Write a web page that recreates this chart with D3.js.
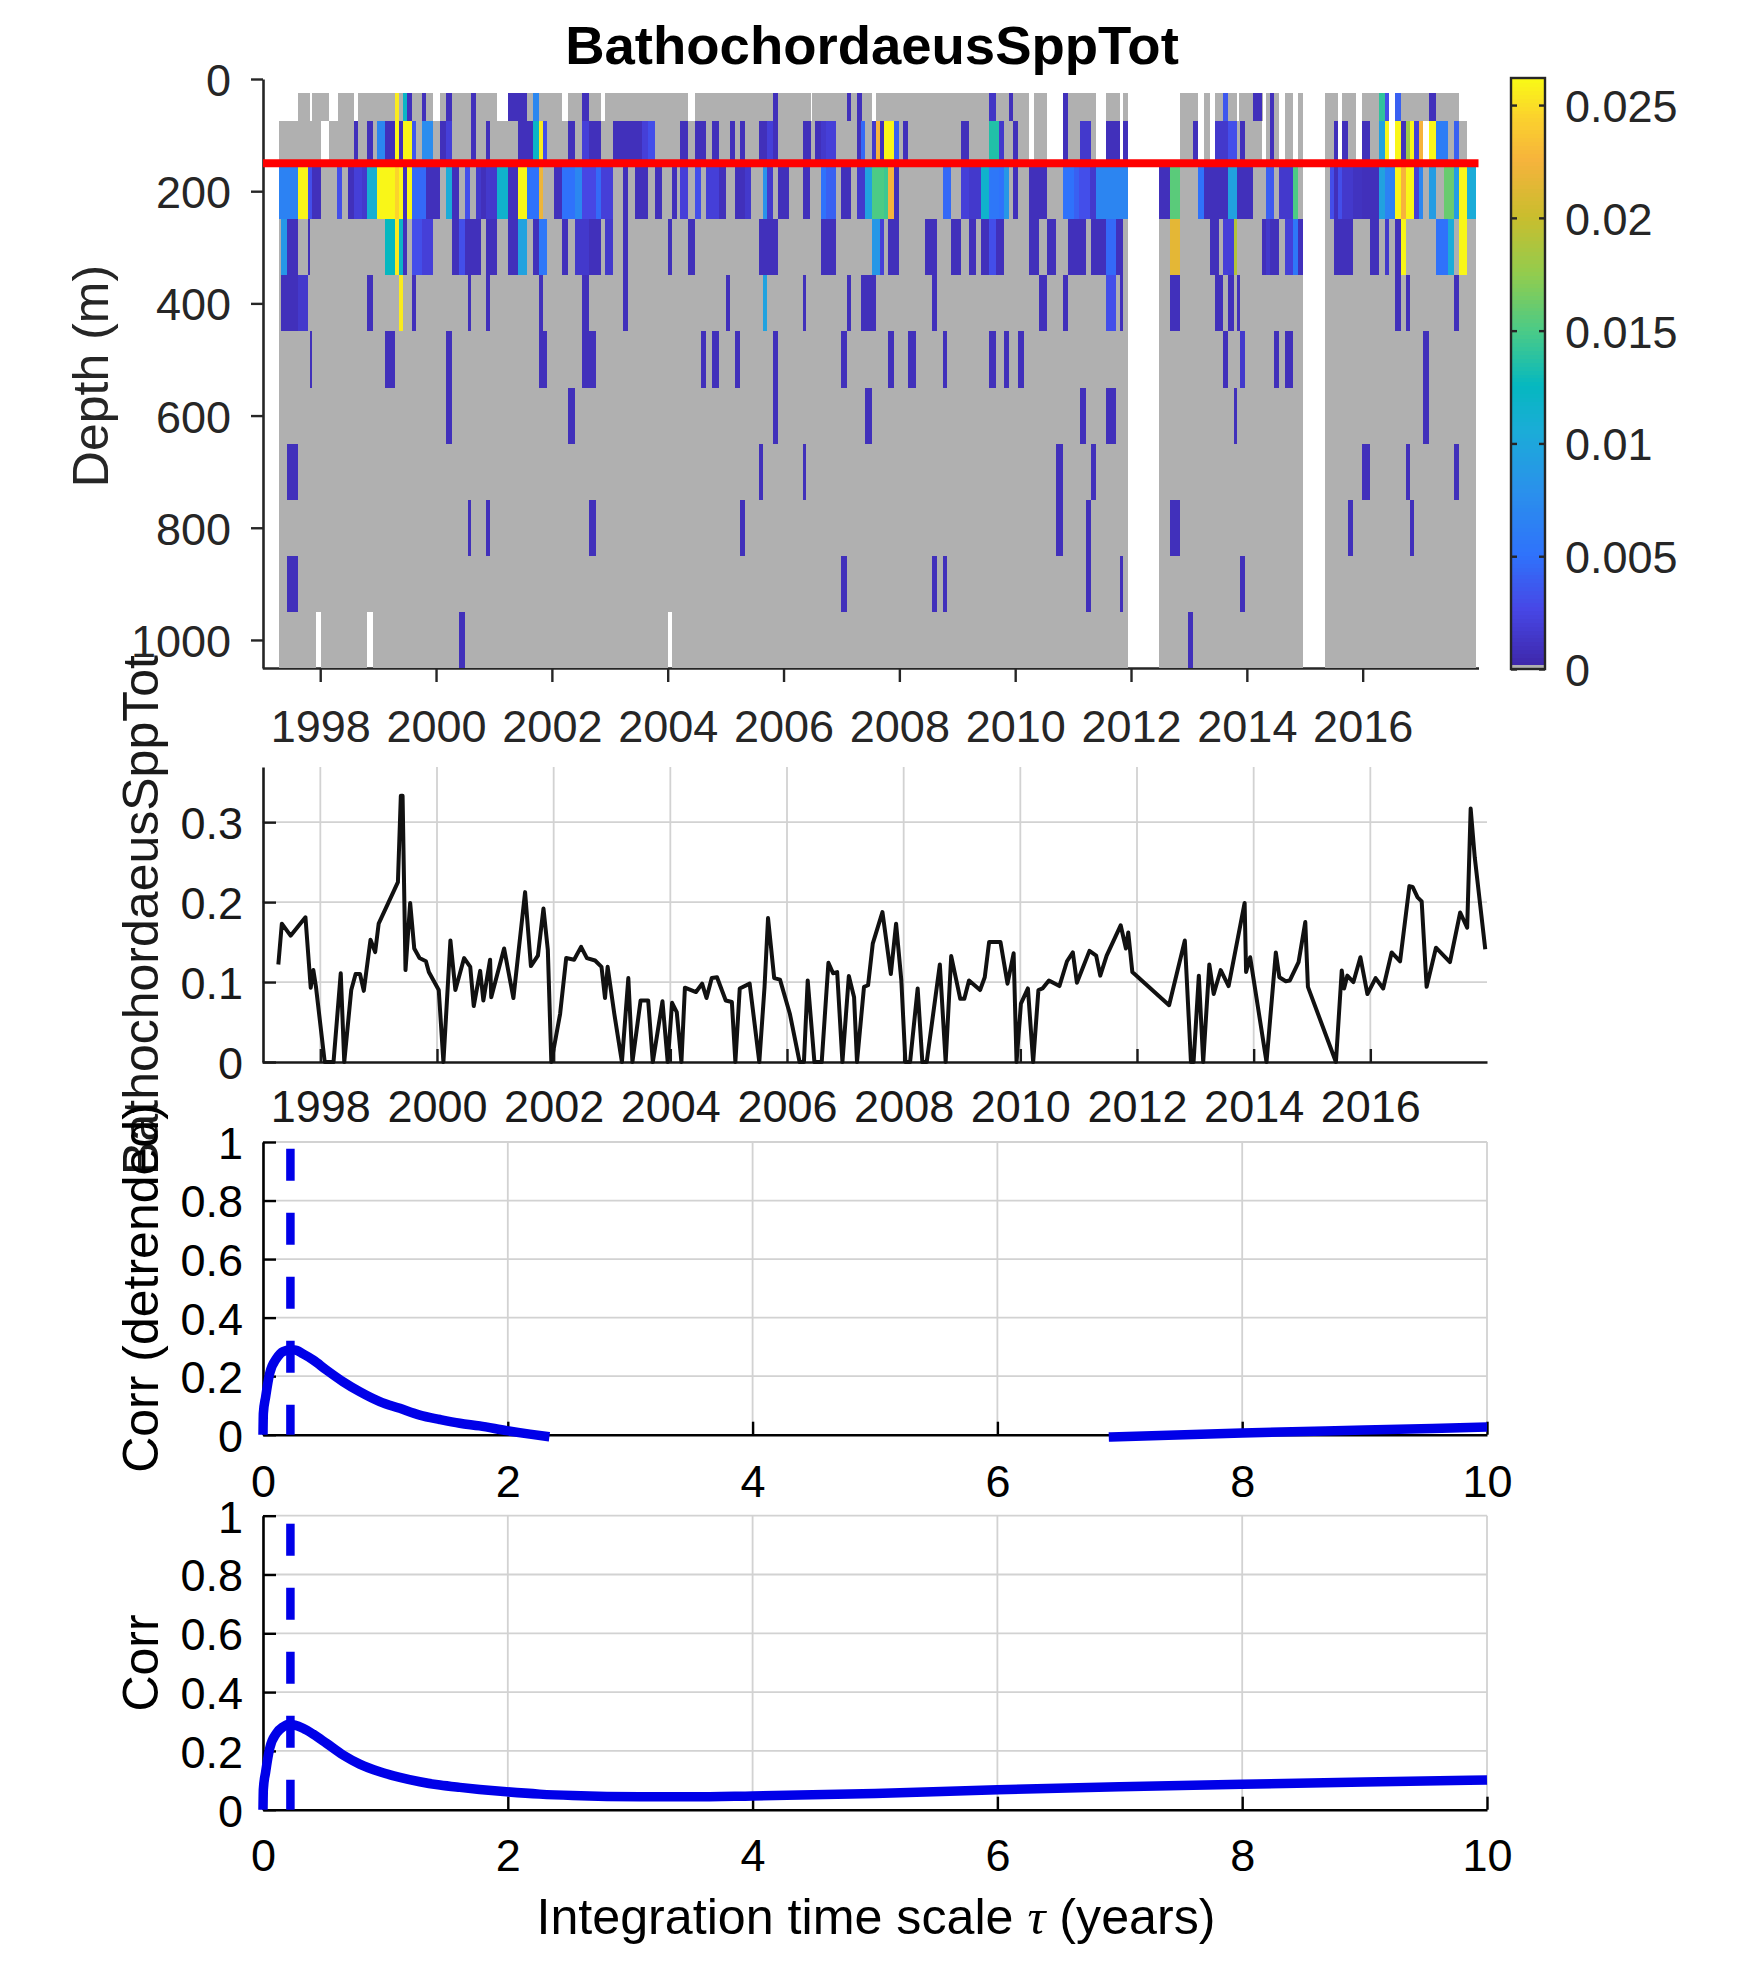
<!DOCTYPE html>
<html>
<head>
<meta charset="utf-8">
<title>BathochordaeusSppTot</title>
<script src="https://cdn.jsdelivr.net/npm/d3@7"></script>
<style>
  html, body { margin: 0; padding: 0; background: #fff; }
  svg { display: block; }
  text { font-family: "Liberation Sans", Arial, sans-serif; }
</style>
</head>
<body>
<svg id="fig" width="1750" height="1969"></svg>
<script>
//////////////////// DATA ////////////////////
const D = 0.0008; // darkest blue, most of the cells

// depth bins of the section (m)
const depthEdges = [25, 75, 150, 250, 350, 450, 550, 650, 750, 850, 950, 1050];

// first and last time sampled for each depth bin
const rowSpans = [
  [1997.62, 2017.66], [1997.28, 2017.81], [1997.28, 2017.95], [1997.28, 2017.95],
  [1997.28, 2017.95], [1997.28, 2017.95], [1997.28, 2017.95], [1997.28, 2017.95],
  [1997.28, 2017.95], [1997.28, 2017.95], [1997.28, 2017.95]
];

// missing times (white)
const gapsTop = [[1997.83, 1997.86], [1998.15, 1998.30], [1998.59, 1998.66], [1999.95, 2000.07], [2001.05, 2001.24],
  [2002.17, 2002.28], [2002.85, 2002.91], [2004.35, 2004.48], [2006.47, 2006.49], [2007.52, 2007.60], [2010.24, 2010.33],
  [2010.55, 2010.83], [2011.40, 2011.57], [2011.81, 2011.86], [2011.95, 2012.84], [2013.16, 2013.26], [2013.36, 2013.45],
  [2013.83, 2013.86], [2014.28, 2014.33], [2014.55, 2014.66], [2014.79, 2014.88], [2014.965, 2015.345], [2015.57, 2015.64],
  [2015.88, 2015.98], [2016.45, 2016.55]];
const gapsSecond = [[1998.02, 1998.155], [2010.24, 2010.33], [2010.55, 2010.83], [2011.40, 2011.57], [2011.81, 2011.86],
  [2011.95, 2012.84], [2013.16, 2013.26], [2013.36, 2013.45], [2014.26, 2014.33], [2014.55, 2014.66], [2014.79, 2014.88],
  [2014.965, 2015.345], [2015.57, 2015.64], [2015.88, 2015.98], [2016.45, 2016.55], [2017.05, 2017.14]];
const gapsDeep = [[2011.95, 2012.48], [2014.965, 2015.345]];
const gapsBottom = [[1997.93, 1998.02], [1998.81, 1998.91], [2004.0, 2004.07], [2011.95, 2012.48], [2014.965, 2015.345]];

// cells with a non zero value : [start, end, value]
const cells25 = [[1999.29, 1999.36, .0255], [1999.43, 1999.50, .012], [1999.50, 1999.59, D], [1999.76, 1999.83, D], [2000.17, 2000.28, D],
  [2000.60, 2000.69, D], [2001.24, 2001.57, D], [2001.67, 2001.78, .007], [2002.52, 2002.64, D], [2005.81, 2005.91, D], [2007.09, 2007.17, D],
  [2007.26, 2007.35, D], [2009.55, 2009.67, .0012], [2009.90, 2009.97, D], [2010.83, 2010.91, D], [2013.59, 2013.67, .0035], [2014.10, 2014.26, D],
  [2014.40, 2014.47, D], [2016.28, 2016.38, .014], [2016.38, 2016.45, .003], [2016.55, 2016.66, .004], [2017.14, 2017.26, D]];
const cells75 = [[1998.59, 1998.66, D], [1998.81, 1998.91, D], [1998.98, 1999.12, .007], [1999.12, 1999.29, D], [1999.29, 1999.36, .026],
  [1999.36, 1999.43, D], [1999.43, 1999.59, .026], [1999.59, 1999.66, .0035], [1999.76, 1999.95, .0075], [2000.07, 2000.17, D], [2000.17, 2000.28, .002],
  [2000.60, 2000.69, D], [2000.86, 2000.93, D], [2001.41, 2001.67, D], [2001.67, 2001.78, .012], [2001.78, 2001.845, .0255], [2001.845, 2001.91, .003],
  [2002.28, 2002.40, D], [2002.52, 2002.64, .002], [2002.64, 2002.845, D], [2003.05, 2003.55, D], [2003.55, 2003.66, .002], [2003.66, 2003.78, .003],
  [2004.22, 2004.345, D], [2004.48, 2004.66, D], [2004.76, 2004.88, D], [2005.07, 2005.155, D], [2005.24, 2005.33, D], [2005.57, 2005.72, D],
  [2005.72, 2005.81, .002], [2005.81, 2005.91, D], [2006.33, 2006.48, D], [2006.55, 2006.655, D], [2006.655, 2006.74, .0015], [2006.74, 2006.90, .002],
  [2007.26, 2007.345, D], [2007.345, 2007.41, .0045], [2007.52, 2007.60, .0015], [2007.60, 2007.67, .0225], [2007.67, 2007.74, D], [2007.74, 2007.91, .026],
  [2007.91, 2008.0, .004], [2008.07, 2008.155, D], [2009.07, 2009.21, D], [2009.55, 2009.72, .0135], [2009.72, 2009.81, .0015], [2009.97, 2010.05, D],
  [2010.83, 2010.91, D], [2011.12, 2011.31, .0015], [2011.57, 2011.81, D], [2011.86, 2011.95, D], [2013.07, 2013.155, D], [2013.45, 2013.67, .0015],
  [2013.67, 2013.83, .003], [2013.88, 2013.97, D], [2014.40, 2014.465, D], [2015.50, 2015.57, D], [2015.64, 2015.74, D], [2015.98, 2016.12, D],
  [2016.28, 2016.38, .0095], [2016.38, 2016.45, .026], [2016.55, 2016.655, .026], [2016.655, 2016.74, D], [2016.74, 2016.81, .018], [2016.81, 2016.88, .026],
  [2016.88, 2016.98, .002], [2016.98, 2017.05, .0225], [2017.14, 2017.26, .026], [2017.26, 2017.48, .006], [2017.57, 2017.655, .004]];
const cells150 = [[1997.28, 1997.62, .0065], [1997.62, 1997.79, .026], [1997.79, 1997.86, .003], [1997.86, 1998.02, D], [1998.29, 1998.38, .003],
  [1998.48, 1998.59, D], [1998.59, 1998.72, .002], [1998.72, 1998.81, .0015], [1998.81, 1998.98, .011], [1998.98, 1999.29, .026], [1999.29, 1999.36, .0245],
  [1999.36, 1999.43, .026], [1999.43, 1999.50, D], [1999.50, 1999.59, .026], [1999.59, 1999.83, .0045], [1999.83, 2000.07, D], [2000.17, 2000.28, .0105],
  [2000.28, 2000.40, D], [2000.50, 2000.59, .003], [2000.69, 2000.78, .0015], [2000.78, 2000.86, D], [2000.86, 2001.05, .0015], [2001.05, 2001.24, .0115],
  [2001.24, 2001.41, D], [2001.41, 2001.57, .026], [2001.57, 2001.78, .005], [2001.78, 2001.845, .022], [2002.03, 2002.17, D], [2002.17, 2002.40, .005],
  [2002.40, 2002.52, .007], [2002.52, 2002.76, .0025], [2002.76, 2002.845, .0045], [2002.845, 2003.05, .002], [2003.22, 2003.31, D], [2003.43, 2003.655, D],
  [2003.78, 2003.91, D], [2004.07, 2004.155, D], [2004.22, 2004.345, .002], [2004.48, 2004.57, .003], [2004.655, 2004.88, .002], [2004.88, 2005.0, D],
  [2005.155, 2005.33, D], [2005.33, 2005.43, .0015], [2005.64, 2005.72, .008], [2005.72, 2005.81, .0015], [2005.91, 2006.10, D], [2006.33, 2006.45, D],
  [2006.655, 2006.74, .005], [2006.74, 2006.90, .004], [2007.0, 2007.17, D], [2007.26, 2007.41, .0015], [2007.41, 2007.52, .0095], [2007.52, 2007.74, .015],
  [2007.74, 2007.81, .0145], [2007.81, 2007.91, .0225], [2007.91, 2008.0, D], [2008.76, 2008.90, .0045], [2009.07, 2009.21, .002], [2009.21, 2009.41, .0015],
  [2009.41, 2009.55, .0115], [2009.55, 2009.72, .0055], [2009.72, 2009.81, .005], [2009.81, 2009.90, .0085], [2009.97, 2010.05, D], [2010.24, 2010.55, D],
  [2010.83, 2011.02, .005], [2011.02, 2011.10, .004], [2011.10, 2011.29, .003], [2011.29, 2011.40, .0015], [2011.40, 2011.95, .0068], [2012.48, 2012.67, D],
  [2012.67, 2012.845, .0155], [2013.155, 2013.26, .005], [2013.26, 2013.67, D], [2013.67, 2013.83, .0095], [2013.83, 2014.10, D], [2014.33, 2014.40, .004],
  [2014.40, 2014.465, .0035], [2014.55, 2014.79, .0015], [2014.79, 2014.88, .015], [2015.43, 2015.50, .003], [2015.50, 2015.57, D], [2015.57, 2015.64, .003],
  [2015.64, 2015.83, .0015], [2015.83, 2015.98, .001], [2015.98, 2016.28, D], [2016.28, 2016.38, .0095], [2016.38, 2016.55, .0065], [2016.55, 2016.655, .026],
  [2016.655, 2016.74, .0225], [2016.74, 2016.88, .026], [2016.88, 2016.98, .002], [2016.98, 2017.05, .007], [2017.14, 2017.26, .009], [2017.40, 2017.57, .016],
  [2017.57, 2017.655, .009], [2017.655, 2017.81, .026], [2017.81, 2017.95, .0105]];
const cells250 = [[1997.33, 1997.43, .0085], [1997.43, 1997.62, D], [1997.79, 1997.83, D], [1999.12, 1999.29, .0125], [1999.29, 1999.36, .0255],
  [1999.36, 1999.43, .012], [1999.43, 1999.50, D], [1999.59, 1999.76, .003], [1999.76, 1999.95, .002], [2000.28, 2000.40, D], [2000.40, 2000.50, .003],
  [2000.50, 2000.78, D], [2000.86, 2001.05, D], [2001.24, 2001.41, D], [2001.41, 2001.57, .0095], [2001.67, 2001.78, D], [2001.78, 2001.91, .0055],
  [2002.17, 2002.28, D], [2002.40, 2002.64, .0015], [2002.64, 2002.845, D], [2002.91, 2003.05, .0015], [2003.22, 2003.31, D], [2004.0, 2004.07, D],
  [2004.345, 2004.48, D], [2005.57, 2005.91, D], [2006.655, 2006.90, D], [2007.52, 2007.67, .0085], [2007.67, 2007.74, .002], [2007.81, 2008.0, D],
  [2008.45, 2008.655, D], [2008.90, 2009.07, D], [2009.21, 2009.33, D], [2009.41, 2009.55, D], [2009.55, 2009.67, .003], [2009.67, 2009.81, D],
  [2010.24, 2010.41, D], [2010.55, 2010.71, D], [2010.91, 2011.22, D], [2011.31, 2011.57, D], [2011.57, 2011.74, .0045], [2011.74, 2011.86, D],
  [2012.67, 2012.845, .0215], [2013.36, 2013.52, D], [2013.59, 2013.78, .002], [2013.78, 2013.83, .019], [2014.26, 2014.33, D], [2014.33, 2014.40, .0015],
  [2014.40, 2014.55, D], [2014.655, 2014.79, .002], [2014.79, 2014.88, .0055], [2014.88, 2014.965, D], [2015.50, 2015.83, D], [2016.12, 2016.28, D],
  [2016.38, 2016.45, .0015], [2016.55, 2016.655, D], [2016.655, 2016.74, .026], [2017.26, 2017.48, .005], [2017.48, 2017.57, .0105], [2017.655, 2017.81, .026]];
const cells350 = [[1997.33, 1997.62, D], [1997.62, 1997.79, .0015], [1998.81, 1998.91, D], [1999.36, 1999.43, .0255], [1999.59, 1999.655, D],
  [2000.55, 2000.60, D], [2000.86, 2000.93, D], [2001.78, 2001.845, D], [2002.52, 2002.64, D], [2003.22, 2003.31, D], [2005.0, 2005.07, D],
  [2005.64, 2005.72, .0095], [2006.33, 2006.38, D], [2007.09, 2007.17, D], [2007.345, 2007.60, D], [2008.57, 2008.655, D], [2010.41, 2010.55, D],
  [2010.83, 2010.91, D], [2011.57, 2011.74, .003], [2011.81, 2011.86, D], [2012.67, 2012.845, D], [2013.45, 2013.59, D], [2013.67, 2013.78, D],
  [2013.83, 2013.88, D], [2016.55, 2016.655, D], [2016.74, 2016.81, D], [2017.57, 2017.655, D]];
const cells450 = [[1997.83, 1997.86, D], [1999.12, 1999.29, D], [2000.17, 2000.28, D], [2001.78, 2001.91, D], [2002.52, 2002.76, D], [2004.57, 2004.655, D],
  [2004.76, 2004.88, D], [2005.155, 2005.24, D], [2005.81, 2005.91, D], [2007.0, 2007.09, D], [2007.81, 2007.91, D], [2008.155, 2008.28, D], [2008.76, 2008.83, D],
  [2009.55, 2009.67, D], [2009.81, 2009.90, D], [2010.05, 2010.155, D], [2013.59, 2013.67, D], [2013.88, 2013.97, .0015], [2014.465, 2014.55, D],
  [2014.655, 2014.79, D], [2017.05, 2017.14, D]];
const cells550 = [[2000.17, 2000.28, D], [2002.28, 2002.40, D], [2005.81, 2005.91, D], [2007.41, 2007.52, D], [2011.12, 2011.22, D], [2011.57, 2011.74, D],
  [2013.78, 2013.83, D], [2017.05, 2017.14, D]];
const cells650 = [[1997.43, 1997.62, D], [2005.57, 2005.64, D], [2006.33, 2006.38, D], [2010.71, 2010.83, D], [2011.31, 2011.40, D], [2015.98, 2016.12, D],
  [2016.74, 2016.81, D], [2017.57, 2017.655, D]];
const cells750 = [[2000.55, 2000.60, D], [2000.86, 2000.93, D], [2002.64, 2002.76, D], [2005.24, 2005.33, D], [2010.71, 2010.83, D], [2011.22, 2011.31, D],
  [2012.67, 2012.845, D], [2015.74, 2015.83, D], [2016.81, 2016.88, D]];
const cells850 = [[1997.43, 1997.62, D], [2007.0, 2007.09, D], [2008.57, 2008.655, D], [2008.76, 2008.83, D], [2011.22, 2011.31, D], [2011.81, 2011.86, D],
  [2013.88, 2013.97, D]];
const cells950 = [[2000.40, 2000.50, D], [2012.98, 2013.07, D]];
const rowCells = [cells25, cells75, cells150, cells250, cells350, cells450, cells550, cells650, cells750, cells850, cells950];
const rowGaps = [gapsTop, gapsSecond, gapsDeep, gapsDeep, gapsDeep, gapsDeep, gapsDeep, gapsDeep, gapsDeep, gapsDeep, gapsBottom];

const redDepth = 150;

// integrated time series
const seriesYears = [1997.28, 1997.34, 1997.49, 1997.745, 1997.835, 1997.88, 1997.925, 1998.075, 1998.226, 1998.35, 1998.41, 1998.53, 1998.605, 1998.68, 1998.745,
  1998.86, 1998.94, 1999.0, 1999.33, 1999.38, 1999.41, 1999.46, 1999.54, 1999.61, 1999.70, 1999.81, 1999.86, 2000.03, 2000.11, 2000.23, 2000.315, 2000.465, 2000.57,
  2000.63, 2000.74, 2000.795, 2000.91, 2000.93, 2001.15, 2001.31, 2001.51, 2001.61, 2001.73, 2001.825, 2001.90, 2001.96, 2002.11, 2002.215, 2002.35, 2002.47, 2002.57,
  2002.71, 2002.82, 2002.88, 2002.925, 2003.04, 2003.17, 2003.28, 2003.35, 2003.49, 2003.62, 2003.70, 2003.865, 2003.955, 2004.03, 2004.11, 2004.19, 2004.25, 2004.44,
  2004.545, 2004.62, 2004.71, 2004.80, 2004.95, 2005.055, 2005.115, 2005.19, 2005.36, 2005.525, 2005.615, 2005.675, 2005.78, 2005.88, 2006.05, 2006.216, 2006.29,
  2006.355, 2006.47, 2006.595, 2006.71, 2006.79, 2006.86, 2006.95, 2007.06, 2007.15, 2007.2, 2007.32, 2007.39, 2007.47, 2007.636, 2007.78, 2007.87, 2007.96, 2008.03,
  2008.11, 2008.24, 2008.32, 2008.395, 2008.62, 2008.72, 2008.815, 2008.97, 2009.04, 2009.12, 2009.31, 2009.39, 2009.465, 2009.66, 2009.78, 2009.885, 2009.935, 2010.01,
  2010.13, 2010.22, 2010.31, 2010.38, 2010.49, 2010.67, 2010.80, 2010.90, 2010.97, 2011.185, 2011.30, 2011.37, 2011.48, 2011.72, 2011.81, 2011.85, 2011.92, 2012.55,
  2012.82, 2012.925, 2012.97, 2013.06, 2013.135, 2013.24, 2013.315, 2013.435, 2013.57, 2013.845, 2013.87, 2013.94, 2014.22, 2014.38, 2014.44, 2014.55, 2014.62, 2014.77,
  2014.885, 2014.93, 2015.41, 2015.51, 2015.55, 2015.605, 2015.71, 2015.83, 2015.95, 2016.09, 2016.22, 2016.365, 2016.51, 2016.67, 2016.725, 2016.81, 2016.88, 2016.965,
  2017.125, 2017.365, 2017.54, 2017.66, 2017.72, 2017.79, 2017.97];
const seriesValues = [.122, .173, .158, .181, .093, .115, .094, 0, 0, .111, 0, .09, .11, .11, .089,
  .153, .1375, .173, .225, .333, .333, .115, .199, .142, .13, .126, .1125, .09, 0, .152, .09, .13, .119,
  .07, .114, .077, .128, .081, .142, .08, .2125, .12, .133, .192, .14, 0, .06, .13, .128, .144, .13,
  .127, .119, .08, .119, .06, 0, .105, 0, .077, .077, 0, .076, 0, .074, .0625, 0, .093, .0875,
  .098, .08, .105, .106, .077, .075, 0, .092, .098, 0, .094, .18, .105, .103, .06, 0, 0,
  .102, 0, 0, .124, .111, .1125, 0, .1075, .081, 0, .094, .096, .148, .1875, .11, .173, .102, 0,
  0, .092, 0, 0, .122, 0, .1325, .079, .079, .102, .09, .106, .15, .15, .098, .136, 0, .073,
  .092, 0, .09, .092, .102, .095, .126, .137, .099, .139, .133, .108, .133, .171, .142, .162, .1125, .071,
  .152, 0, 0, .108, 0, .122, .085, .115, .095, .199, .1125, .131, 0, .137, .106, .101, .102, .125,
  .175, .094, 0, .1146, .092, .108, .1, .131, .085, .105, .092, .137, .126, .22, .219, .206, .201, .094,
  .143, .125, .187, .168, .317, .256, .141];

// correlation against integration time scale
const tauFirst = [0, .003, .022, .055, .11, .164, .218, .26, .327, .41, .518, .654, .79, .954, 1.118, 1.281, 1.445, 1.608, 1.77, 1.99, 2.18, 2.34];
const corrDetrendedFirst = [0, .073, .13, .21, .26, .284, .289, .289, .276, .255, .221, .181, .147, .113, .09, .067, .052, .039, .03, .014, .002, -.007];
const tauSecond = [6.91, 8, 9, 10];
const corrDetrendedSecond = [-.008, .006, .016, .026];
const tauFull = [0, .003, .022, .055, .11, .164, .218, .26, .327, .41, .518, .654, .79, .954, 1.118, 1.281, 1.445, 1.608, 1.77, 1.99, 2.26, 2.53, 2.81, 3.08, 3.5, 4, 5, 6, 7, 8, 9, 10];
const corrFull = [0, .07, .129, .209, .26, .282, .291, .288, .277, .257, .226, .186, .155, .129, .11, .095, .084, .076, .069, .061, .053, .048, .045, .044, .044, .047, .055, .068, .078, .0865, .094, .101];
const bestTau = 0.224;

const yearTicks = [1998, 2000, 2002, 2004, 2006, 2008, 2010, 2012, 2014, 2016];
const depthTicks = [0, 200, 400, 600, 800, 1000];
const seriesTicks = [0, .1, .2, .3];
const corrTicks = [0, .2, .4, .6, .8, 1];
const tauTicks = [0, 2, 4, 6, 8, 10];
const colorTicks = [0, .005, .01, .015, .02, .025];

// colormap stops, read on the colorbar
const colorMax = 0.0262;
const stopValues = [0, .0026, .005, .0078, .0105, .0125, .015, .0175, .02, .0225, .0245, .0262];
const stopColors = ['#3e26a8', '#4747e6', '#2f72fb', '#2a90ec', '#1bacd8', '#05b8c0', '#4ccb85', '#93cc4d', '#c9bd2e', '#f6b33c', '#fbd42c', '#f9fb15'];

//////////////////// SCALES ////////////////////
const svg = d3.select('#fig');
const tickFont = 45, labelFont = 50;
const left = 263, right = 1487;

var color = d3.scaleLinear().domain(stopValues).range(stopColors).clamp(true);

var xTop = d3.scaleLinear().domain([1997, 2018]).range([262.3, 1478.5]);
var yTop = d3.scaleLinear().domain([0, 1050]).range([79, 668]);
var xSeries = d3.scaleLinear().domain([1997, 2018]).range([left - 1, right]);
var ySeries = d3.scaleLinear().domain([0, 0.369]).range([1062, 767]);
var xCorr = d3.scaleLinear().domain([0, 10]).range([left, right]);
var yDetrended = d3.scaleLinear().domain([0, 1]).range([1434.7, 1142]);
var yCorr = d3.scaleLinear().domain([0, 1]).range([1809.7, 1515.7]);
var yColor = d3.scaleLinear().domain([0, colorMax]).range([669, 78]);

//////////////////// HELPERS ////////////////////
// axis styling shared by all panels
function styleAxis(g, ink) {
  g.selectAll('.domain').attr('stroke', ink).attr('stroke-width', 2.6);
  g.selectAll('.tick line').attr('stroke', ink).attr('stroke-width', 2.4);
  g.selectAll('.tick text').attr('fill', ink).attr('font-size', tickFont)
    .attr('font-family', '"Liberation Sans", Arial, sans-serif');
  // vertical axes : labels sit a little lower than the d3 default
  g.selectAll('.tick text').filter(function() { return d3.select(this).attr('dy') === '0.32em'; }).attr('dy', '0.365em');
  return g;
}

function grid(xs, ys, xScale, yScale) {
  var g = svg.append('g').attr('stroke', '#d2d2d2').attr('stroke-width', 1.8);
  g.selectAll('.gx').data(xs).enter().append('line')
    .attr('x1', d => xScale(d)).attr('x2', d => xScale(d))
    .attr('y1', yScale.range()[0]).attr('y2', yScale.range()[1]);
  g.selectAll('.gy').data(ys).enter().append('line')
    .attr('y1', d => yScale(d)).attr('y2', d => yScale(d))
    .attr('x1', xScale.range()[0]).attr('x2', xScale.range()[1]);
}

function rotatedLabel(txt, x, y, ink) {
  svg.append('text').attr('transform', 'translate(' + x + ',' + y + ') rotate(-90)')
    .attr('text-anchor', 'middle').attr('font-size', labelFont).attr('fill', ink).text(txt);
}

// span of a row minus its gaps
function graySegments(span, gaps) {
  var out = [], cur = span[0];
  gaps.forEach(g => {
    if (g[0] > cur) out.push([cur, Math.min(g[0], span[1])]);
    cur = Math.max(cur, g[1]);
  });
  if (cur < span[1]) out.push([cur, span[1]]);
  return out;
}

//////////////////// PANEL 1 : SECTION ////////////////////
svg.append('text').attr('x', 872).attr('y', 64).attr('text-anchor', 'middle')
  .attr('font-size', 54.5).attr('font-weight', 'bold').attr('fill', '#000').text('BathochordaeusSppTot');

styleAxis(svg.append('g').attr('transform', 'translate(0,668)')
  .call(d3.axisBottom(xTop).tickValues(yearTicks).tickFormat(d => d)
    .tickSize(14).tickSizeOuter(0).tickPadding(28)), '#262626');
styleAxis(svg.append('g').attr('transform', 'translate(' + left + ',0)')
  .call(d3.axisLeft(yTop).tickValues(depthTicks).tickFormat(d => d).tickSize(12).tickSizeOuter(0).tickPadding(20)), '#262626');
rotatedLabel('Depth (m)', 108, 376, '#262626');

var rows = svg.append('g').attr('shape-rendering', 'crispEdges');
rowSpans.forEach((span, i) => {
  var row = rows.append('g');
  var y0 = yTop(depthEdges[i]), h = yTop(depthEdges[i + 1]) - y0;
  row.selectAll('.gray').data(graySegments(span, rowGaps[i])).enter().append('rect')
    .attr('x', d => xTop(d[0])).attr('width', d => xTop(d[1]) - xTop(d[0]))
    .attr('y', y0).attr('height', h).attr('fill', '#b0b0b0');
  row.selectAll('.cell').data(rowCells[i]).enter().append('rect')
    .attr('x', d => xTop(d[0])).attr('width', d => xTop(d[1]) - xTop(d[0]))
    .attr('y', y0).attr('height', h).attr('fill', d => color(d[2]));
});

svg.append('line').attr('x1', left).attr('x2', xTop(2018))
  .attr('y1', yTop(redDepth)).attr('y2', yTop(redDepth))
  .attr('stroke', '#ff0000').attr('stroke-width', 8);

// colorbar
var barStep = colorMax / 150;
svg.append('g').attr('shape-rendering', 'crispEdges').selectAll('rect')
  .data(d3.range(0, colorMax, barStep)).enter().append('rect')
  .attr('x', 1511).attr('width', 34)
  .attr('y', d => yColor(d + barStep)).attr('height', d => yColor(d) - yColor(d + barStep) + 1)
  .attr('fill', d => color(d));
svg.append('rect').attr('x', 1511).attr('width', 34).attr('y', yColor(0) - 4).attr('height', 4).attr('fill', '#b0b0b0');
svg.append('rect').attr('x', 1511).attr('width', 34).attr('y', yColor(colorMax)).attr('height', yColor(0) - yColor(colorMax))
  .attr('fill', 'none').attr('stroke', '#262626').attr('stroke-width', 2.4);
var barAxis = styleAxis(svg.append('g').attr('transform', 'translate(1545,0)')
  .call(d3.axisRight(yColor).tickValues(colorTicks).tickFormat(d => d).tickSize(-6).tickSizeOuter(0).tickPadding(20)), '#262626');
barAxis.select('.domain').remove();
barAxis.selectAll('.tick').each(function() {
  d3.select(this).append('line').attr('x1', -34).attr('x2', -28).attr('stroke', '#262626').attr('stroke-width', 2.4);
});

//////////////////// PANEL 2 : TIME SERIES ////////////////////
grid(yearTicks, seriesTicks.slice(1), xSeries, ySeries);
styleAxis(svg.append('g').attr('transform', 'translate(0,1062)')
  .call(d3.axisBottom(xSeries).tickValues(yearTicks).tickFormat(d => d).tickSize(-13).tickSizeOuter(0).tickPadding(28)), '#1a1a1a');
styleAxis(svg.append('g').attr('transform', 'translate(' + left + ',0)')
  .call(d3.axisLeft(ySeries).tickValues(seriesTicks).tickFormat(d => d).tickSize(-13).tickSizeOuter(0).tickPadding(20)), '#1a1a1a');
rotatedLabel('BathochordaeusSppTot', 158, 915, '#1a1a1a');

var seriesLine = d3.line().x((d, i) => xSeries(seriesYears[i])).y(d => ySeries(d));
svg.append('path').attr('d', seriesLine(seriesValues))
  .attr('fill', 'none').attr('stroke', '#111').attr('stroke-width', 4).attr('stroke-linejoin', 'round');

//////////////////// PANELS 3 & 4 : CORRELATION ////////////////////
function corrPanel(yScale, curves, padding, label) {
  grid(tauTicks, corrTicks.slice(1), xCorr, yScale);
  var baseY = yScale.range()[0];
  styleAxis(svg.append('g').attr('transform', 'translate(0,' + baseY + ')')
    .call(d3.axisBottom(xCorr).tickValues(tauTicks).tickFormat(d => d).tickSize(-13).tickSizeOuter(0).tickPadding(padding)), '#000');
  styleAxis(svg.append('g').attr('transform', 'translate(' + left + ',0)')
    .call(d3.axisLeft(yScale).tickValues(corrTicks).tickFormat(d => d).tickSize(-13).tickSizeOuter(0).tickPadding(20)), '#000');
  rotatedLabel(label.text, 158, label.y, '#000');

  curves.forEach(c => {
    var line = d3.line().x((d, i) => xCorr(c.tau[i])).y(d => yScale(d)).curve(d3.curveMonotoneX);
    svg.append('path').attr('d', line(c.corr)).attr('fill', 'none').attr('stroke', '#0000e8').attr('stroke-width', 9.5);
  });
  svg.append('line').attr('x1', xCorr(bestTau)).attr('x2', xCorr(bestTau))
    .attr('y1', yScale(0)).attr('y2', yScale(1))
    .attr('stroke', '#0000e8').attr('stroke-width', 8.5).attr('stroke-dasharray', '32 32').attr('stroke-dashoffset', 2);
}

corrPanel(yDetrended, [{tau: tauFirst, corr: corrDetrendedFirst}, {tau: tauSecond, corr: corrDetrendedSecond}], 30,
  {text: 'Corr (detrended)', y: 1288});
corrPanel(yCorr, [{tau: tauFull, corr: corrFull}], 29.5, {text: 'Corr', y: 1663});

var xlab = svg.append('text').attr('x', 876).attr('y', 1934).attr('text-anchor', 'middle')
  .attr('font-size', 50.2).attr('fill', '#000');
xlab.append('tspan').text('Integration time scale ');
xlab.append('tspan').attr('font-family', '"Liberation Serif", serif').attr('font-style', 'italic').text('τ');
xlab.append('tspan').text(' (years)');
</script>
</body>
</html>
